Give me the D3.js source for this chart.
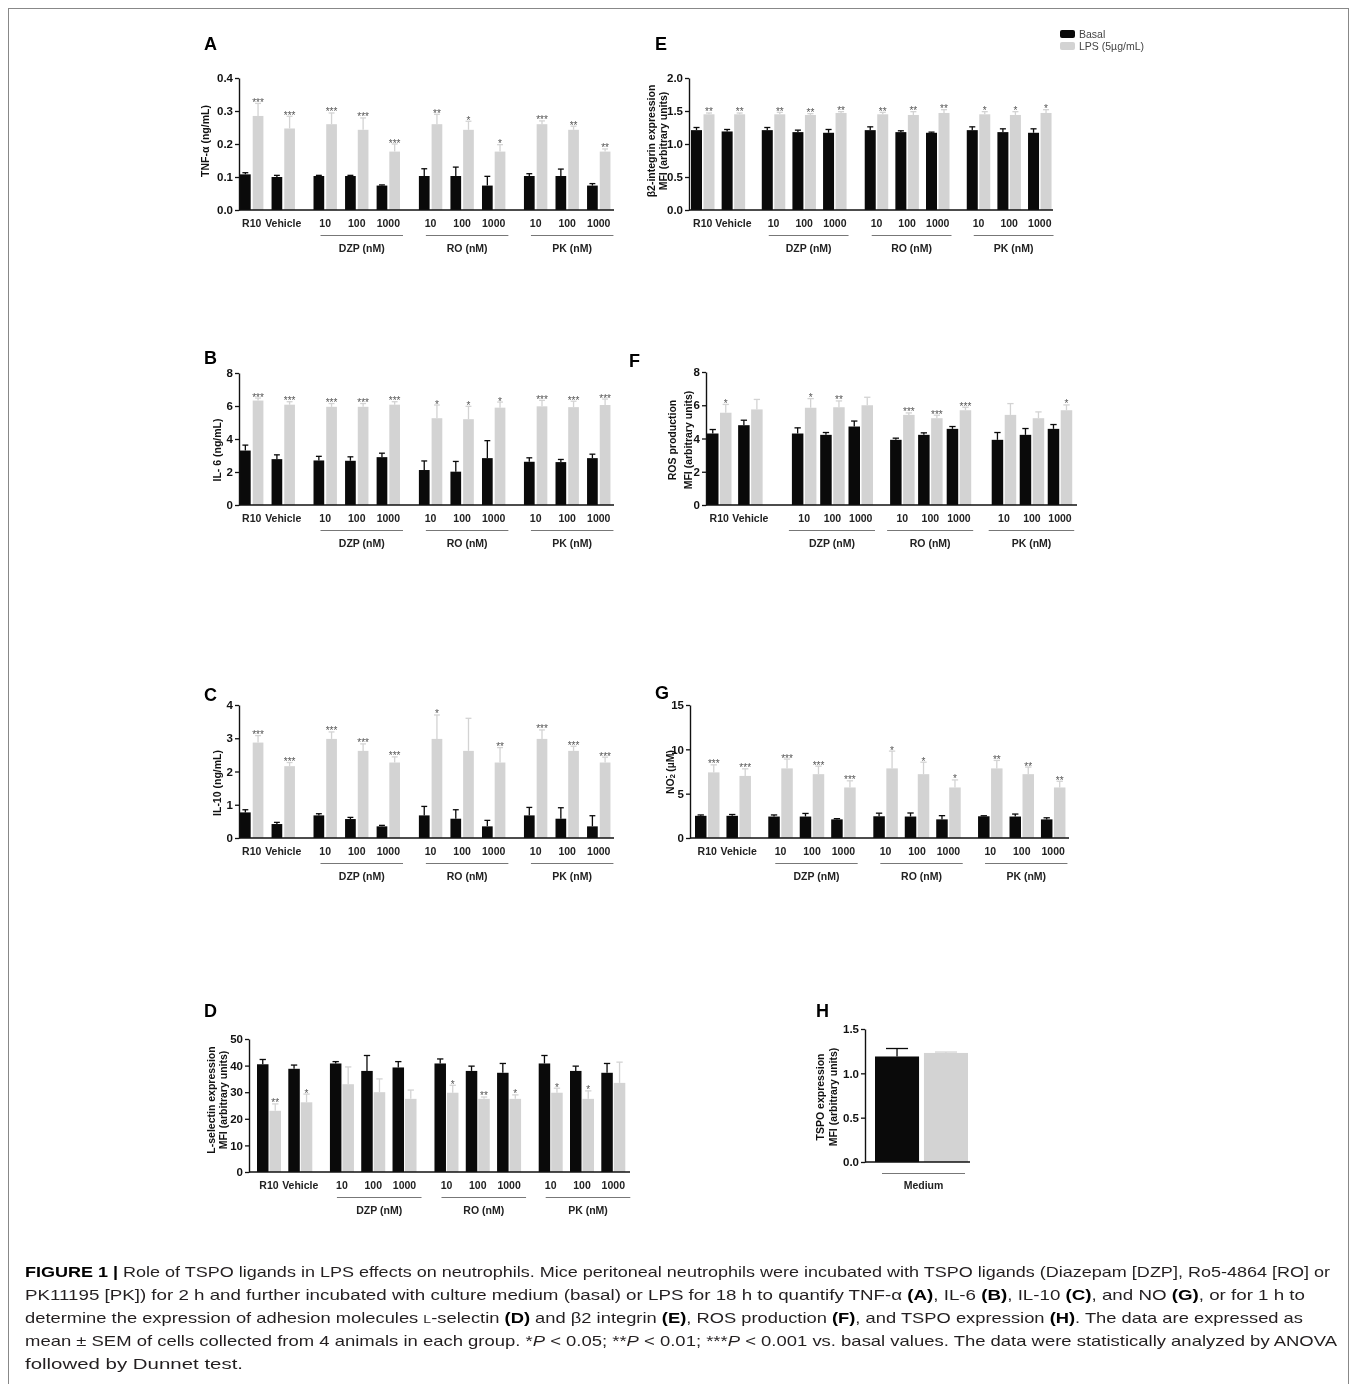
<!DOCTYPE html>
<html>
<head>
<meta charset="utf-8">
<script src="https://cdn.jsdelivr.net/npm/d3@7"></script>
<style>
body { margin: 0; background: #fff; }
svg { display: block; will-change: transform; }
text { font-family: "Liberation Sans", Arial, sans-serif; }
</style>
</head>
<body>
<svg id="fig" width="1357" height="1384"></svg>
<script>
// categories shared by panels A-G
const categories = ['R10', 'Vehicle', '10', '100', '1000', '10', '100', '1000', '10', '100', '1000'];
const catGroup = [0, 0, 1, 1, 1, 2, 2, 2, 3, 3, 3];
const groupLabels = ['DZP (nM)', 'RO (nM)', 'PK (nM)'];
const legendLabels = ['Basal', 'LPS (5µg/mL)'];

// A  TNF-alpha
const tnfBasal = [0.108, 0.100, 0.103, 0.103, 0.074, 0.103, 0.103, 0.074, 0.103, 0.103, 0.074];
const tnfBasalErr = [0.005, 0.005, 0.002, 0.002, 0.002, 0.022, 0.027, 0.028, 0.007, 0.021, 0.006];
const tnfLps = [0.285, 0.247, 0.260, 0.243, 0.177, 0.260, 0.243, 0.177, 0.260, 0.243, 0.177];
const tnfLpsErr = [0.038, 0.037, 0.034, 0.036, 0.023, 0.030, 0.026, 0.021, 0.010, 0.011, 0.008];
const tnfStars = ['***', '***', '***', '***', '***', '**', '*', '*', '***', '**', '**'];

// E  beta2 integrin
const b2Basal = [1.21, 1.19, 1.21, 1.18, 1.17, 1.21, 1.18, 1.17, 1.21, 1.18, 1.17];
const b2BasalErr = [0.04, 0.03, 0.04, 0.03, 0.05, 0.05, 0.02, 0.01, 0.05, 0.05, 0.06];
const b2Lps = [1.45, 1.45, 1.45, 1.44, 1.47, 1.45, 1.44, 1.47, 1.45, 1.44, 1.47];
const b2LpsErr = [0.02, 0.02, 0.03, 0.02, 0.02, 0.03, 0.05, 0.05, 0.04, 0.05, 0.05];
const b2Stars = ['**', '**', '**', '**', '**', '**', '**', '**', '*', '*', '*'];

// B  IL-6
const il6Basal = [3.30, 2.78, 2.70, 2.68, 2.90, 2.12, 2.02, 2.84, 2.62, 2.60, 2.84];
const il6BasalErr = [0.33, 0.26, 0.25, 0.24, 0.24, 0.55, 0.62, 1.06, 0.24, 0.16, 0.24];
const il6Lps = [6.33, 6.08, 5.95, 5.95, 6.08, 5.26, 5.20, 5.90, 5.98, 5.93, 6.06];
const il6LpsErr = [0.15, 0.18, 0.20, 0.20, 0.18, 0.80, 0.78, 0.34, 0.36, 0.36, 0.36];
const il6Stars = ['***', '***', '***', '***', '***', '*', '*', '*', '***', '***', '***'];

// F  ROS
const rosBasal = [4.30, 4.80, 4.30, 4.22, 4.72, 3.92, 4.22, 4.58, 3.92, 4.22, 4.58];
const rosBasalErr = [0.24, 0.30, 0.34, 0.14, 0.33, 0.10, 0.12, 0.14, 0.44, 0.38, 0.26];
const rosLps = [5.55, 5.75, 5.85, 5.88, 6.00, 5.42, 5.22, 5.70, 5.42, 5.22, 5.70];
const rosLpsErr = [0.50, 0.60, 0.55, 0.38, 0.48, 0.12, 0.18, 0.18, 0.68, 0.38, 0.32];
const rosStars = ['*', '', '*', '**', '', '***', '***', '***', '', '', '*'];

// C  IL-10
const il10Basal = [0.77, 0.42, 0.68, 0.57, 0.35, 0.68, 0.58, 0.35, 0.68, 0.58, 0.35];
const il10BasalErr = [0.08, 0.05, 0.05, 0.05, 0.03, 0.27, 0.27, 0.18, 0.24, 0.33, 0.32];
const il10Lps = [2.87, 2.16, 2.98, 2.62, 2.27, 2.98, 2.62, 2.27, 2.98, 2.62, 2.27];
const il10LpsErr = [0.21, 0.11, 0.21, 0.21, 0.17, 0.72, 0.98, 0.45, 0.27, 0.14, 0.16];
const il10Stars = ['***', '***', '***', '***', '***', '*', '', '**', '***', '***', '***'];

// G  NO2-
const noBasal = [2.50, 2.50, 2.42, 2.42, 2.10, 2.45, 2.42, 2.10, 2.45, 2.42, 2.10];
const noBasalErr = [0.10, 0.15, 0.18, 0.35, 0.08, 0.35, 0.40, 0.42, 0.06, 0.28, 0.18];
const noLps = [7.40, 7.00, 7.85, 7.20, 5.70, 7.85, 7.20, 5.70, 7.85, 7.20, 5.70];
const noLpsErr = [0.85, 0.80, 1.05, 0.90, 0.75, 1.95, 1.35, 0.85, 0.90, 0.80, 0.70];
const noStars = ['***', '***', '***', '***', '***', '*', '*', '*', '**', '**', '**'];

// D  L-selectin
const lselBasal = [40.5, 38.8, 40.8, 38.0, 39.3, 40.8, 38.0, 37.3, 40.8, 38.0, 37.3];
const lselBasalErr = [1.8, 1.4, 0.7, 5.8, 2.2, 1.7, 1.8, 3.5, 3.0, 1.8, 3.5];
const lselLps = [23.0, 26.2, 33.0, 30.0, 27.5, 29.8, 27.5, 27.5, 29.8, 27.5, 33.5];
const lselLpsErr = [2.6, 3.1, 6.5, 5.0, 3.3, 2.8, 0.7, 1.5, 1.7, 3.0, 7.8];
const lselStars = ['**', '*', '', '', '', '*', '**', '*', '*', '*', ''];

// H  TSPO
const tspoCategory = 'Medium';
const tspoBasal = 1.19, tspoBasalErr = 0.09;
const tspoLps = 1.23, tspoLpsErr = 0.01;

const BLACK = '#0a0a0a', GREY = '#d3d3d3', INK = '#111';
const svg = d3.select('#fig');

// outer frame
svg.append('rect').attr('x', 8.5).attr('y', 8.5).attr('width', 1340).attr('height', 1390)
  .attr('fill', 'none').attr('stroke', '#888').attr('stroke-width', 1);

const stdOff = [0, 0.33, 0.67, 1.0];

const panels = [
  { id: 'A', lx: 204, ly: 50, axisX: 239, barStart: 240, slot: 31.55, barW: 10.7, gap: 2, axisEnd: 614,
    yTop: 78, yBot: 210, yMax: 0.4, ticks: [0, 0.1, 0.2, 0.3, 0.4], fmt: '.1f', off: stdOff, br: [7, 3],
    ylab: ['TNF-α (ng/mL)'], ylabX: [205], ylabY: 141,
    basal: tnfBasal, basalErr: tnfBasalErr, lps: tnfLps, lpsErr: tnfLpsErr, stars: tnfStars },
  { id: 'E', lx: 655, ly: 50, axisX: 689, barStart: 691, slot: 30.64, barW: 11, gap: 1.5, axisEnd: 1053,
    yTop: 78, yBot: 210, yMax: 2.0, ticks: [0, 0.5, 1.0, 1.5, 2.0], fmt: '.1f', off: [0, 0.31, 0.67, 1.0], br: [7, 2],
    ylab: ['β2-integrin expression', 'MFI (arbitrary units)'], ylabX: [651, 663], ylabY: 141,
    basal: b2Basal, basalErr: b2BasalErr, lps: b2Lps, lpsErr: b2LpsErr, stars: b2Stars },
  { id: 'B', lx: 204, ly: 364, axisX: 239, barStart: 240, slot: 31.55, barW: 10.7, gap: 2, axisEnd: 614,
    yTop: 373, yBot: 505, yMax: 8, ticks: [0, 2, 4, 6, 8], fmt: 'd', off: stdOff, br: [7, 3],
    ylab: ['IL- 6 (ng/mL)'], ylabX: [217], ylabY: 450,
    basal: il6Basal, basalErr: il6BasalErr, lps: il6Lps, lpsErr: il6LpsErr, stars: il6Stars },
  { id: 'F', lx: 629, ly: 367, axisX: 706, barStart: 707, slot: 28.3, barW: 11.5, gap: 1.5, axisEnd: 1077,
    yTop: 372, yBot: 505, yMax: 8, ticks: [0, 2, 4, 6, 8], fmt: 'd', br: [-3, 2],
    units: [0, 1.1, 3.0, 4.0, 5.0, 6.47, 7.46, 8.47, 10.06, 11.05, 12.04],
    ylab: ['ROS production', 'MFI (arbitrary units)'], ylabX: [672, 688], ylabY: 440,
    basal: rosBasal, basalErr: rosBasalErr, lps: rosLps, lpsErr: rosLpsErr, stars: rosStars },
  { id: 'C', lx: 204, ly: 701, axisX: 239, barStart: 240, slot: 31.55, barW: 10.7, gap: 2, axisEnd: 614,
    yTop: 705, yBot: 838, yMax: 4, ticks: [0, 1, 2, 3, 4], fmt: 'd', off: stdOff, br: [7, 3],
    ylab: ['IL-10 (ng/mL)'], ylabX: [217], ylabY: 783,
    basal: il10Basal, basalErr: il10BasalErr, lps: il10Lps, lpsErr: il10LpsErr, stars: il10Stars },
  { id: 'G', lx: 655, ly: 699, axisX: 690, barStart: 695, slot: 31.45, barW: 11.5, gap: 1.5, axisEnd: 1069,
    yTop: 705, yBot: 838, yMax: 15, ticks: [0, 5, 10, 15], fmt: 'd', off: stdOff, br: [7, 2],
    ylab: ['NO'], ylabX: [670], ylabY: 772, no2: true,
    basal: noBasal, basalErr: noBasalErr, lps: noLps, lpsErr: noLpsErr, stars: noStars },
  { id: 'D', lx: 204, ly: 1017, axisX: 249, barStart: 257, slot: 31.3, barW: 11.5, gap: 1, axisEnd: 630,
    yTop: 1039, yBot: 1172, yMax: 50, ticks: [0, 10, 20, 30, 40, 50], fmt: 'd', off: stdOff, br: [7, 5],
    ylab: ['L-selectin expression', 'MFI (arbitrary units)'], ylabX: [211, 223], ylabY: 1100,
    basal: lselBasal, basalErr: lselBasalErr, lps: lselLps, lpsErr: lselLpsErr, stars: lselStars }
];

function errBar(g, cx, y0, y1, w, color) {
  g.append('line').attr('x1', cx).attr('x2', cx).attr('y1', y0).attr('y2', y1)
    .attr('stroke', color).attr('stroke-width', 1.3);
  g.append('line').attr('x1', cx - w / 2).attr('x2', cx + w / 2).attr('y1', y1).attr('y2', y1)
    .attr('stroke', color).attr('stroke-width', 1.3);
}

function yAxis(g, p, y) {
  const ax = g.append('g').attr('transform', `translate(${p.axisX},0)`)
    .call(d3.axisLeft(y).tickValues(p.ticks).tickSize(4).tickSizeOuter(0).tickFormat(d3.format(p.fmt)));
  ax.select('.domain').attr('stroke', INK).attr('stroke-width', 1.4);
  ax.selectAll('.tick line').attr('stroke', INK).attr('stroke-width', 1.3);
  ax.selectAll('.tick text').attr('fill', INK).attr('font-size', 11.5).attr('font-weight', 'bold')
    .attr('font-family', '"Liberation Sans", Arial, sans-serif').attr('x', -6);
  g.append('line').attr('x1', p.axisX).attr('x2', p.axisEnd).attr('y1', p.yBot).attr('y2', p.yBot)
    .attr('stroke', INK).attr('stroke-width', 1.4);
}

function yLabel(g, p) {
  p.ylab.forEach((t, k) => {
    const txt = g.append('text')
      .attr('transform', `translate(${p.ylabX[k]},${p.ylabY}) rotate(-90)`)
      .attr('text-anchor', 'middle').attr('dominant-baseline', 'central')
      .attr('font-size', 10.5).attr('font-weight', 'bold').attr('fill', INK);
    if (p.no2) {
      txt.append('tspan').text('NO');
      txt.append('tspan').attr('font-size', 7.5).attr('baseline-shift', '-25%').text('2');
      txt.append('tspan').attr('font-size', 7.5).attr('dx', -4).attr('baseline-shift', '60%').text('-');
      txt.append('tspan').attr('dx', 1).text(' (µM)');
    } else {
      txt.text(t);
    }
  });
}

function drawPanel(p) {
  const g = svg.append('g');
  const y = d3.scaleLinear().domain([0, p.yMax]).range([p.yBot, p.yTop]);
  const x = d3.scaleLinear().domain([0, 1]).range([p.barStart, p.barStart + p.slot]);
  const pairW = 2 * p.barW + p.gap;
  const unit = i => p.units ? p.units[i] : i + p.off[catGroup[i]];
  const capW = p.barW * 0.55;

  g.append('text').attr('x', p.lx).attr('y', p.ly).attr('font-size', 18).attr('font-weight', 'bold')
    .attr('fill', '#000').text(p.id);

  categories.forEach((c, i) => {
    const bx = x(unit(i));
    const lx = bx + p.barW + p.gap;
    errBar(g, bx + p.barW / 2, y(p.basal[i]), y(p.basal[i] + p.basalErr[i]), capW, BLACK);
    errBar(g, lx + p.barW / 2, y(p.lps[i]), y(p.lps[i] + p.lpsErr[i]), capW, GREY);
    g.append('rect').attr('x', bx).attr('y', y(p.basal[i])).attr('width', p.barW)
      .attr('height', y(0) - y(p.basal[i])).attr('fill', BLACK);
    g.append('rect').attr('x', lx).attr('y', y(p.lps[i])).attr('width', p.barW)
      .attr('height', y(0) - y(p.lps[i])).attr('fill', GREY);
    if (p.stars[i]) {
      g.append('text').attr('x', lx + p.barW / 2).attr('y', y(p.lps[i] + p.lpsErr[i]) + 2.5)
        .attr('text-anchor', 'middle').attr('font-size', 10).attr('fill', '#555').text(p.stars[i]);
    }
    g.append('text').attr('x', bx + pairW / 2).attr('y', p.yBot + 13).attr('dominant-baseline', 'central')
      .attr('text-anchor', 'middle').attr('font-size', 10.5).attr('font-weight', 'bold').attr('fill', '#222').text(c);
  });

  yAxis(g, p, y);
  yLabel(g, p);

  groupLabels.forEach((lab, gi) => {
    const idx = catGroup.map((v, i) => v === gi + 1 ? i : -1).filter(i => i >= 0);
    const x0 = x(unit(idx[0])) + p.br[0];
    const x1 = x(unit(idx[idx.length - 1])) + pairW + p.br[1];
    g.append('line').attr('x1', x0).attr('x2', x1).attr('y1', p.yBot + 25.5).attr('y2', p.yBot + 25.5)
      .attr('stroke', '#777').attr('stroke-width', 1);
    g.append('text').attr('x', (x0 + x1) / 2).attr('y', p.yBot + 38).attr('dominant-baseline', 'central')
      .attr('text-anchor', 'middle').attr('font-size', 10.5).attr('font-weight', 'bold').attr('fill', '#222').text(lab);
  });
}

panels.forEach(drawPanel);

// panel H
(function () {
  const p = { id: 'H', lx: 816, ly: 1017, axisX: 865, axisEnd: 970, yTop: 1029, yBot: 1162, ticks: [0, 0.5, 1.0, 1.5], fmt: '.1f' };
  const g = svg.append('g');
  const y = d3.scaleLinear().domain([0, 1.5]).range([p.yBot, p.yTop]);
  const x = d3.scaleBand().domain(legendLabels).range([875, 968]).paddingInner(0.1);
  g.append('text').attr('x', p.lx).attr('y', p.ly).attr('font-size', 18).attr('font-weight', 'bold').text(p.id);
  const vals = [tspoBasal, tspoLps], errs = [tspoBasalErr, tspoLpsErr], cols = [BLACK, GREY];
  legendLabels.forEach((k, i) => {
    errBar(g, x(k) + x.bandwidth() / 2, y(vals[i]), y(vals[i] + errs[i]), x.bandwidth() * 0.5, cols[i]);
    g.append('rect').attr('x', x(k)).attr('y', y(vals[i])).attr('width', x.bandwidth())
      .attr('height', y(0) - y(vals[i])).attr('fill', cols[i]);
  });
  yAxis(g, p, y);
  yLabel(g, { ylab: ['TSPO expression', 'MFI (arbitrary units)'], ylabX: [820, 833], ylabY: 1097 });
  g.append('line').attr('x1', 882).attr('x2', 965).attr('y1', 1173.5).attr('y2', 1173.5).attr('stroke', '#777');
  g.append('text').attr('x', 923.5).attr('y', 1185).attr('dominant-baseline', 'central').attr('text-anchor', 'middle')
    .attr('font-size', 10.5).attr('font-weight', 'bold').attr('fill', '#222').text(tspoCategory);
})();

// legend
const leg = svg.append('g').attr('transform', 'translate(1060,30)');
legendLabels.forEach((t, i) => {
  leg.append('rect').attr('x', 0).attr('y', i * 12).attr('width', 15).attr('height', 8).attr('rx', 2)
    .attr('fill', i ? GREY : BLACK);
  leg.append('text').attr('x', 19).attr('y', i * 12 + 4).attr('dominant-baseline', 'central')
    .attr('font-size', 10.5).attr('fill', '#444').text(t);
});

// caption
const captionLines = [
  [['FIGURE 1 |', 'b'], [' Role of TSPO ligands in LPS effects on neutrophils. Mice peritoneal neutrophils were incubated with TSPO ligands (Diazepam [DZP], Ro5-4864 [RO] or', '']],
  [['PK11195 [PK]) for 2 h and further incubated with culture medium (basal) or LPS for 18 h to quantify TNF-α ', ''], ['(A)', 'b'], [', IL-6 ', ''], ['(B)', 'b'],
   [', IL-10 ', ''], ['(C)', 'b'], [', and NO ', ''], ['(G)', 'b'], [', or for 1 h to', '']],
  [['determine the expression of adhesion molecules ', ''], ['L', 'sc'], ['-selectin ', ''], ['(D)', 'b'], [' and β2 integrin ', ''], ['(E)', 'b'],
   [', ROS production ', ''], ['(F)', 'b'], [', and TSPO expression ', ''], ['(H)', 'b'], ['. The data are expressed as', '']],
  [['mean ± SEM of cells collected from 4 animals in each group. *', ''], ['P', 'i'], [' < 0.05; **', ''], ['P', 'i'], [' < 0.01; ***', ''], ['P', 'i'],
   [' < 0.001 vs. basal values. The data were statistically analyzed by ANOVA', '']],
  [['followed by Dunnet test.', '']]
];
const captionWidths = [1305, 1280, 1278, 1312, 218];

captionLines.forEach((segs, li) => {
  const t = svg.append('text').attr('x', 25).attr('y', 1277 + li * 23)
    .attr('font-size', 15).attr('fill', '#231f20')
    .attr('font-family', '"Liberation Sans Narrow", "Liberation Sans", Arial, sans-serif')
    .attr('textLength', captionWidths[li]).attr('lengthAdjust', 'spacingAndGlyphs');
  segs.forEach(([s, st]) => {
    const ts = t.append('tspan').text(s);
    if (st === 'b') ts.attr('font-weight', 'bold').attr('fill', '#000');
    if (st === 'i') ts.attr('font-style', 'italic');
    if (st === 'sc') ts.attr('font-size', 11.5);
  });
});
</script>
</body>
</html>
